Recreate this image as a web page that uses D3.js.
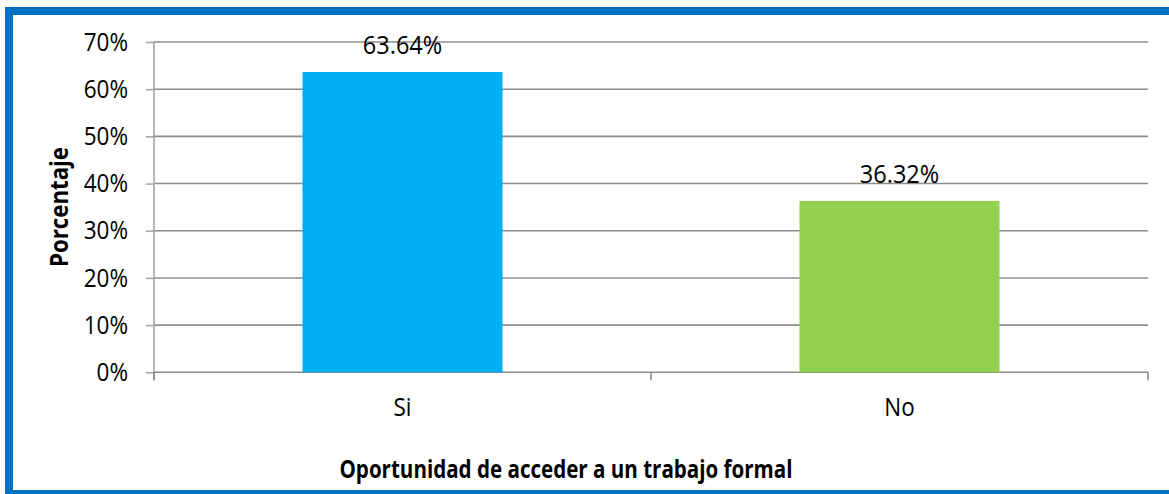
<!DOCTYPE html>
<html>
<head>
<meta charset="utf-8">
<script src="https://cdn.jsdelivr.net/npm/d3@7"></script>
<style>
  body { margin: 0; background: #fff; }
  svg { display: block; }
</style>
</head>
<body>
<div class="box"></div>
<script>
const categorias = ['Si', 'No'];
const porcentajes = [0.6364, 0.3632];
const etiquetas = ['63.64%', '36.32%'];
const colores = ['#00B0F0', '#92D050'];
const yTicks = [0, 0.1, 0.2, 0.3, 0.4, 0.5, 0.6, 0.7];

const dims = {width: 1169, height: 494};
const plot = {left: 154, right: 1148, top: 42, bottom: 372.3};
const stretch = 1.13; // the picture is a bit taller than wide

const svg = d3.select('.box')
    .append('svg')
    .attr('width', dims.width)
    .attr('height', dims.height);

// blue frame, right edge falls outside the picture
svg.append('rect')
    .attr('x', 9).attr('y', 11)
    .attr('width', 1200).attr('height', 483)
    .attr('fill', '#fff')
    .attr('stroke', '#0070C0')
    .attr('stroke-width', 8);

const x = d3.scaleBand()
    .domain(categorias)
    .range([plot.left, plot.right])
    .padding(0);

const y = d3.scaleLinear()
    .domain([0, 0.7])
    .range([plot.bottom, plot.top]);

// grid lines
svg.append('g')
    .selectAll('line')
    .data(yTicks.filter(d => d > 0))
    .enter()
    .append('line')
    .attr('x1', plot.left).attr('x2', plot.right)
    .attr('y1', d => y(d)).attr('y2', d => y(d))
    .attr('stroke', '#8c8c8c')
    .attr('stroke-width', 1.6);

// y axis
const yAxis = d3.axisLeft(y)
    .tickValues(yTicks)
    .tickFormat(d3.format('.0%'))
    .tickSizeInner(8)
    .tickSizeOuter(0)
    .tickPadding(18);

const gy = svg.append('g')
    .attr('transform', `translate(${plot.left},0)`)
    .call(yAxis);
gy.select('.domain').remove();
gy.selectAll('.tick line').attr('stroke', '#a6a6a6').attr('stroke-width', 1.6);
gy.selectAll('.tick text')
    .attr('font-family', 'Open Sans, sans-serif')
    .attr('font-size', 22.5)
    .attr('fill', '#000')
    .attr('transform', function() {
        const tx = +d3.select(this).attr('x');
        return `translate(${tx},0) scale(1,${stretch})`;
    })
    .attr('x', 0);

svg.append('line')
    .attr('x1', plot.left).attr('x2', plot.left)
    .attr('y1', plot.top).attr('y2', plot.bottom + 8)
    .attr('stroke', '#a6a6a6').attr('stroke-width', 1.6);

// x axis line with ticks on the category edges
svg.append('line')
    .attr('x1', plot.left).attr('x2', plot.right)
    .attr('y1', plot.bottom).attr('y2', plot.bottom)
    .attr('stroke', '#8c8c8c').attr('stroke-width', 1.6);

const bordes = categorias.map(c => x(c)).concat([plot.right]);
svg.append('g')
    .selectAll('line')
    .data(bordes)
    .enter()
    .append('line')
    .attr('x1', d => d).attr('x2', d => d)
    .attr('y1', plot.bottom).attr('y2', plot.bottom + 8)
    .attr('stroke', '#8c8c8c').attr('stroke-width', 1.6);

// category labels
svg.append('g')
    .selectAll('text')
    .data(categorias)
    .enter()
    .append('text')
    .attr('transform', d => `translate(${x(d) + x.bandwidth() / 2},416) scale(1,${stretch})`)
    .attr('text-anchor', 'middle')
    .attr('font-family', 'Open Sans, sans-serif')
    .attr('font-size', 22.5)
    .text(d => d);

// bars
const barW = x.bandwidth() * 0.4025;
svg.append('g')
    .selectAll('rect')
    .data(porcentajes)
    .enter()
    .append('rect')
    .attr('x', (d, i) => x(categorias[i]) + (x.bandwidth() - barW) / 2)
    .attr('y', d => y(d))
    .attr('width', barW)
    .attr('height', d => y(0) - y(d))
    .attr('fill', (d, i) => colores[i]);

// value labels
svg.append('g')
    .selectAll('text')
    .data(porcentajes)
    .enter()
    .append('text')
    .attr('transform', (d, i) => `translate(${x(categorias[i]) + x.bandwidth() / 2},${y(d) - 18}) scale(1,1.08)`)
    .attr('text-anchor', 'middle')
    .attr('font-family', 'Open Sans, sans-serif')
    .attr('font-size', 23.5)
    .text((d, i) => etiquetas[i]);

// axis titles
svg.append('text')
    .attr('transform', `translate(566,478) scale(1,1.25)`)
    .attr('text-anchor', 'middle')
    .attr('font-family', 'Open Sans, sans-serif')
    .attr('font-weight', 'bold')
    .attr('font-size', 20)
    .attr('textLength', 453)
    .attr('lengthAdjust', 'spacingAndGlyphs')
    .text('Oportunidad de acceder a un trabajo formal');

svg.append('text')
    .attr('transform', `translate(68,207) rotate(-90) scale(1,1.25)`)
    .attr('text-anchor', 'middle')
    .attr('font-family', 'Open Sans, sans-serif')
    .attr('font-weight', 'bold')
    .attr('font-size', 20)
    .attr('textLength', 120)
    .attr('lengthAdjust', 'spacingAndGlyphs')
    .text('Porcentaje');
</script>
</body>
</html>
